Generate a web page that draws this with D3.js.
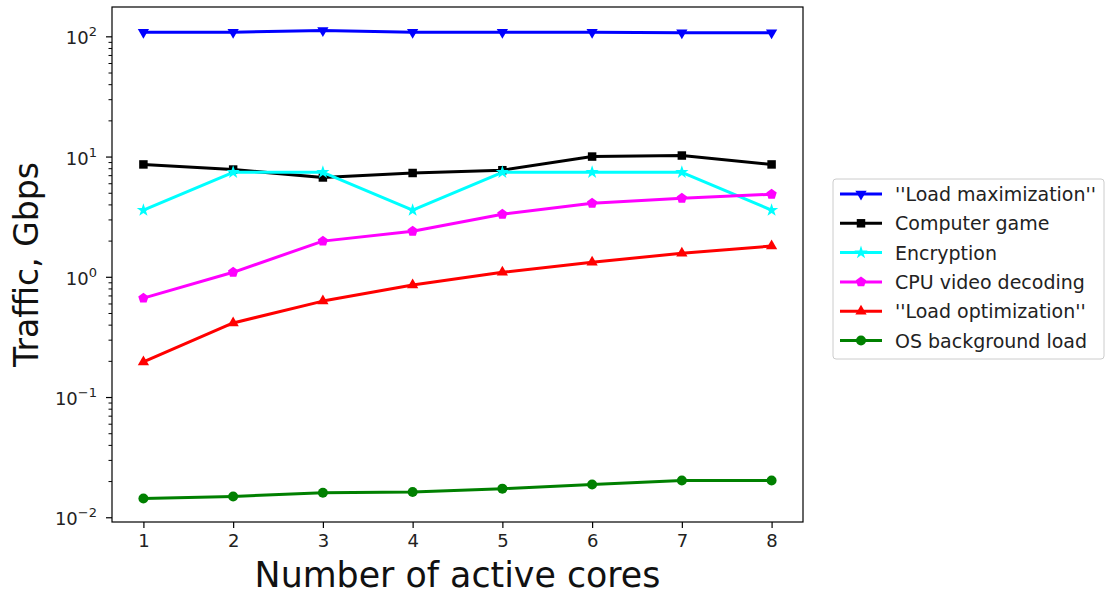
<!DOCTYPE html>
<html>
<head>
<meta charset="utf-8">
<script src="https://cdn.jsdelivr.net/npm/d3@7"></script>
<style>
  body { margin: 0; background: #fff; }
  svg { display: block; font-family: "DejaVu Sans", sans-serif; }
</style>
</head>
<body>
<svg id="chart" width="1107" height="596"></svg>
<script>
// Data
const cores = [1, 2, 3, 4, 5, 6, 7, 8]
const loadMax = [108, 108, 112, 108, 108, 108, 107, 107]
const computerGame = [8.6, 7.8, 6.7, 7.3, 7.7, 10.0, 10.2, 8.6]
const encryption = [3.58, 7.4, 7.4, 3.58, 7.4, 7.4, 7.4, 3.58]
const videoDecoding = [0.665, 1.09, 1.98, 2.39, 3.31, 4.09, 4.5, 4.86]
const loadOpt = [0.196, 0.413, 0.628, 0.853, 1.09, 1.32, 1.57, 1.80]
const osBackground = [0.0143, 0.0149, 0.016, 0.0162, 0.0173, 0.0187, 0.0202, 0.0202]
const yTickExps = [-2, -1, 0, 1, 2]

const series = [
  { name: "''Load maximization''", values: loadMax, color: "#0000ff", marker: "triDown" },
  { name: "Computer game", values: computerGame, color: "#000000", marker: "square" },
  { name: "Encryption", values: encryption, color: "#00ffff", marker: "star" },
  { name: "CPU video decoding", values: videoDecoding, color: "#ff00ff", marker: "pentagon" },
  { name: "''Load optimization''", values: loadOpt, color: "#ff0000", marker: "triUp" },
  { name: "OS background load", values: osBackground, color: "#008000", marker: "circle" }
]

const svg = d3.select("#chart")
const plot = { left: 112, right: 803, top: 7, bottom: 522 }

// matplotlib-like 5% margins, in log space for y
const allVals = series.flatMap(s => s.values)
const lmin = Math.log10(d3.min(allVals)), lmax = Math.log10(d3.max(allVals))
const lpad = (lmax - lmin) * 0.05
const xpad = (d3.max(cores) - d3.min(cores)) * 0.05

const x = d3.scaleLinear()
  .domain([d3.min(cores) - xpad, d3.max(cores) + xpad])
  .range([plot.left, plot.right])
const y = d3.scaleLog()
  .domain([Math.pow(10, lmin - lpad), Math.pow(10, lmax + lpad)])
  .range([plot.bottom, plot.top])

// marker shapes
const pentagon = {
  draw(ctx, size) {
    const r = Math.sqrt(size / 2.378)
    for (let i = 0; i < 5; i++) {
      const a = -Math.PI / 2 + i * 2 * Math.PI / 5
      if (i === 0) ctx.moveTo(r * Math.cos(a), r * Math.sin(a))
      else ctx.lineTo(r * Math.cos(a), r * Math.sin(a))
    }
    ctx.closePath()
  }
}
function markerPath(kind) {
  switch (kind) {
    case "triDown": return { d: d3.symbol(d3.symbolTriangle, 55)(), rot: 180 }
    case "triUp": return { d: d3.symbol(d3.symbolTriangle, 55)(), rot: 0 }
    case "square": return { d: d3.symbol(d3.symbolSquare, 72)(), rot: 0 }
    case "star": return { d: d3.symbol(d3.symbolStar, 55)(), rot: 0 }
    case "pentagon": return { d: d3.symbol(pentagon, 70)(), rot: 0 }
    default: return { d: d3.symbol(d3.symbolCircle, 78)(), rot: 0 }
  }
}

// Axes
const yMinor = []
for (let e = -3; e <= 2; e++) {
  for (let m = 2; m <= 9; m++) {
    const v = m * Math.pow(10, e)
    if (v >= y.domain()[0] && v <= y.domain()[1]) yMinor.push(v)
  }
}

const axisG = svg.append("g")

// x ticks
const xAxis = axisG.append("g").attr("transform", `translate(0,${plot.bottom})`)
  .call(d3.axisBottom(x).tickValues(cores).tickFormat(d3.format("d")).tickSizeOuter(0).tickSize(6).tickPadding(6))
xAxis.select(".domain").remove()
xAxis.selectAll(".tick line").attr("stroke", "#000").attr("stroke-width", 1.2)
xAxis.selectAll(".tick text").attr("font-size", 18).attr("fill", "#222")
  .attr("font-family", "DejaVu Sans, sans-serif")

// y minor ticks
const yMinorAxis = axisG.append("g").attr("transform", `translate(${plot.left},0)`)
  .call(d3.axisLeft(y).tickValues(yMinor).tickFormat("").tickSize(3.5).tickSizeOuter(0))
yMinorAxis.select(".domain").remove()
yMinorAxis.selectAll(".tick line").attr("stroke", "#000").attr("stroke-width", 1)

// y major ticks with 10^k labels
const yMajor = axisG.append("g").attr("transform", `translate(${plot.left},0)`)
  .call(d3.axisLeft(y).tickValues(yTickExps.map(e => Math.pow(10, e))).tickFormat("").tickSize(6).tickSizeOuter(0))
yMajor.select(".domain").remove()
yMajor.selectAll(".tick line").attr("stroke", "#000").attr("stroke-width", 1.2)

yTickExps.forEach(e => {
  const t = axisG.append("text")
    .attr("x", plot.left - 15)
    .attr("y", y(Math.pow(10, e)) + 8)
    .attr("text-anchor", "end")
    .attr("font-size", 18)
    .attr("fill", "#222")
  t.append("tspan").text("10")
  t.append("tspan").attr("dy", -8).attr("font-size", 13)
    .text(e < 0 ? "\u2212" + Math.abs(e) : String(e))
})

// frame
svg.append("rect")
  .attr("x", plot.left).attr("y", plot.top)
  .attr("width", plot.right - plot.left).attr("height", plot.bottom - plot.top)
  .attr("fill", "none").attr("stroke", "#000").attr("stroke-width", 1.2)

// lines + markers
const line = d3.line().x((d, i) => x(cores[i])).y(d => y(d))
const g = svg.append("g")
series.forEach(s => {
  g.append("path")
    .attr("d", line(s.values))
    .attr("fill", "none")
    .attr("stroke", s.color)
    .attr("stroke-width", 3)
    .attr("stroke-linejoin", "round")
  const m = markerPath(s.marker)
  g.append("g").selectAll("path")
    .data(s.values)
    .join("path")
    .attr("d", m.d)
    .attr("transform", (d, i) => `translate(${x(cores[i])},${y(d)}) rotate(${m.rot})`)
    .attr("fill", s.color)
})

// axis labels
svg.append("text")
  .attr("x", (plot.left + plot.right) / 2)
  .attr("y", 587)
  .attr("text-anchor", "middle")
  .attr("font-size", 34.8)
  .attr("fill", "#111")
  .text("Number of active cores")

svg.append("text")
  .attr("transform", `translate(38,${(plot.top + plot.bottom) / 2}) rotate(-90)`)
  .attr("text-anchor", "middle")
  .attr("font-size", 33)
  .attr("fill", "#111")
  .text("Traffic, Gbps")

// legend
const legend = svg.append("g").attr("transform", "translate(833,179)")
legend.append("rect")
  .attr("width", 271).attr("height", 180)
  .attr("rx", 3)
  .attr("fill", "#fff").attr("stroke", "#ccc").attr("stroke-width", 1)

series.forEach((s, i) => {
  const row = legend.append("g").attr("transform", `translate(0,${15 + i * 29.3})`)
  row.append("line")
    .attr("x1", 7).attr("x2", 49)
    .attr("stroke", s.color).attr("stroke-width", 3)
  const m = markerPath(s.marker)
  row.append("path").attr("d", m.d)
    .attr("transform", `translate(28,0) rotate(${m.rot})`)
    .attr("fill", s.color)
  row.append("text")
    .attr("x", 62).attr("y", 7)
    .attr("font-size", 19)
    .attr("fill", "#222")
    .text(s.name)
})
</script>
</body>
</html>
